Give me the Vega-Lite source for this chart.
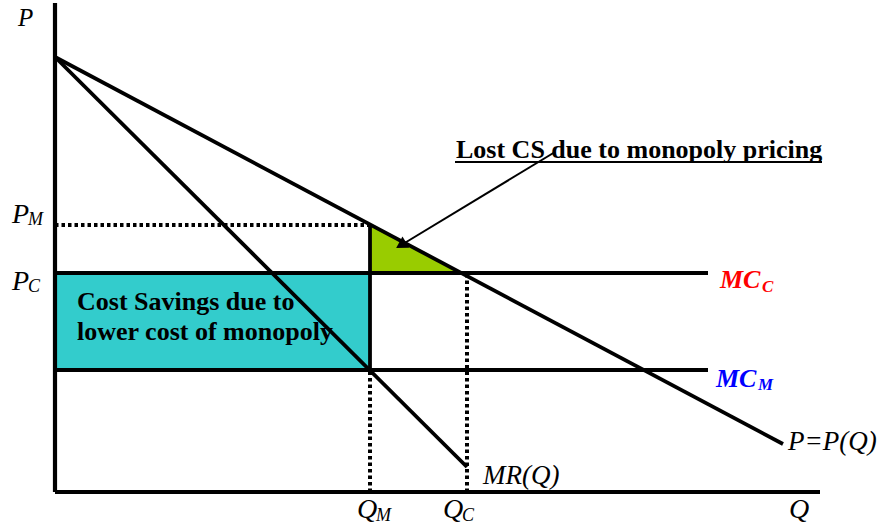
{
  "$schema": "https://vega.github.io/schema/vega-lite/v6.json",
  "width": 883,
  "height": 524,
  "autosize": "none",
  "padding": 0,
  "background": "white",
  "config": {"view": {"stroke": null}},
  "datasets": {
    "rects": [{"x": 0, "x2": 315, "y": 122, "y2": 219}],
    "tri": [{"x": 315, "y": 267, "y2": 219}, {"x": 408, "y": 219, "y2": 219}],
    "axes": [
      {"x": 0, "y": 0, "x2": 0, "y2": 489},
      {"x": 0, "y": 0, "x2": 765, "y2": 0}
    ],
    "solid": [
      {"name": "demand", "x": 0, "y": 435, "x2": 728, "y2": 48},
      {"name": "MR", "x": 0, "y": 435, "x2": 412, "y2": 25},
      {"name": "MCC", "x": 0, "y": 219, "x2": 653, "y2": 219},
      {"name": "MCM", "x": 0, "y": 122, "x2": 653, "y2": 122},
      {"name": "QM upper", "x": 315, "y": 122, "x2": 315, "y2": 267}
    ],
    "dotted": [
      {"name": "PM", "x": 0, "y": 267, "x2": 315, "y2": 267},
      {"name": "QM", "x": 315, "y": 0, "x2": 315, "y2": 122},
      {"name": "QC", "x": 412, "y": 0, "x2": 412, "y2": 219}
    ],
    "arrow": [{"x": 500, "y": 340, "x2": 348, "y2": 248}],
    "arrowhead": [{"x": 346, "y": 247}],
    "underline": [{"x": 400, "y": 330, "x2": 767, "y2": 330}],
    "titleP": [{"x": -37, "y": 466, "label": "P"}],
    "bigItalic": [
      {"x": -43, "y": 269, "label": "P"},
      {"x": -43, "y": 202, "label": "P"},
      {"x": 302, "y": -26, "label": "Q"},
      {"x": 388, "y": -26, "label": "Q"},
      {"x": 734, "y": -26, "label": "Q"}
    ],
    "subItalic": [
      {"x": -27, "y": 267, "label": "M"},
      {"x": -27, "y": 200, "label": "C"},
      {"x": 321, "y": -29, "label": "M"},
      {"x": 407, "y": -29, "label": "C"}
    ],
    "curveLabels": [
      {"x": 428, "y": 8, "label": "MR(Q)"},
      {"x": 733, "y": 42, "label": "P=P(Q)"}
    ],
    "mc": [
      {"x": 665, "y": 204, "label": "MC", "curve": "C"},
      {"x": 661, "y": 105, "label": "MC", "curve": "M"}
    ],
    "mcSub": [
      {"x": 707, "y": 200, "label": "C", "curve": "C"},
      {"x": 703, "y": 102, "label": "M", "curve": "M"}
    ],
    "lost": [{"x": 401, "y": 334, "label": "Lost CS due to monopoly pricing"}],
    "savings": [
      {"x": 22, "y": 182, "label": "Cost Savings due to"},
      {"x": 22, "y": 152, "label": "lower cost of monopoly"}
    ]
  },
  "encoding": {
    "x": {"field": "x", "type": "quantitative", "scale": {"domain": [-55, 828], "nice": false, "zero": false}, "axis": null},
    "y": {"field": "y", "type": "quantitative", "scale": {"domain": [-32, 492], "nice": false, "zero": false}, "axis": null}
  },
  "layer": [
    {
      "data": {"name": "rects"},
      "mark": {"type": "rect", "color": "#33cccc", "stroke": "#1f9f9f", "strokeWidth": 1},
      "encoding": {"x2": {"field": "x2"}, "y2": {"field": "y2"}}
    },
    {
      "data": {"name": "tri"},
      "mark": {"type": "area", "color": "#99cc00"},
      "encoding": {"y2": {"field": "y2"}}
    },
    {
      "data": {"name": "axes"},
      "mark": {"type": "rule", "color": "black", "strokeWidth": 4.2},
      "encoding": {"x2": {"field": "x2"}, "y2": {"field": "y2"}}
    },
    {
      "data": {"name": "solid"},
      "mark": {"type": "rule", "color": "black", "strokeWidth": 3.8},
      "encoding": {"x2": {"field": "x2"}, "y2": {"field": "y2"}}
    },
    {
      "data": {"name": "dotted"},
      "mark": {"type": "rule", "color": "black", "strokeWidth": 4, "strokeDash": [3.5, 3]},
      "encoding": {"x2": {"field": "x2"}, "y2": {"field": "y2"}}
    },
    {
      "data": {"name": "arrow"},
      "mark": {"type": "rule", "color": "black", "strokeWidth": 2},
      "encoding": {"x2": {"field": "x2"}, "y2": {"field": "y2"}}
    },
    {
      "data": {"name": "arrowhead"},
      "mark": {"type": "point", "shape": "triangle-up", "filled": true, "color": "black", "size": 170, "angle": 239, "opacity": 1}
    },
    {
      "data": {"name": "underline"},
      "mark": {"type": "rule", "color": "black", "strokeWidth": 2},
      "encoding": {"x2": {"field": "x2"}, "y2": {"field": "y2"}}
    },
    {
      "data": {"name": "titleP"},
      "mark": {"type": "text", "font": "Liberation Serif", "fontStyle": "italic", "fontSize": 25, "align": "left", "baseline": "alphabetic", "color": "black"},
      "encoding": {"text": {"field": "label"}}
    },
    {
      "data": {"name": "bigItalic"},
      "mark": {"type": "text", "font": "Liberation Serif", "fontStyle": "italic", "fontSize": 28, "align": "left", "baseline": "alphabetic", "color": "black"},
      "encoding": {"text": {"field": "label"}}
    },
    {
      "data": {"name": "subItalic"},
      "mark": {"type": "text", "font": "Liberation Serif", "fontStyle": "italic", "fontSize": 18, "align": "left", "baseline": "alphabetic", "color": "black"},
      "encoding": {"text": {"field": "label"}}
    },
    {
      "data": {"name": "curveLabels"},
      "mark": {"type": "text", "font": "Liberation Serif", "fontStyle": "italic", "fontSize": 27, "align": "left", "baseline": "alphabetic", "color": "black"},
      "encoding": {"text": {"field": "label"}}
    },
    {
      "data": {"name": "mc"},
      "mark": {"type": "text", "font": "Liberation Serif", "fontStyle": "italic", "fontWeight": "bold", "fontSize": 26, "align": "left", "baseline": "alphabetic"},
      "encoding": {
        "text": {"field": "label"},
        "color": {"field": "curve", "type": "nominal", "scale": {"domain": ["C", "M"], "range": ["#ff0000", "#0000ff"]}, "legend": null}
      }
    },
    {
      "data": {"name": "mcSub"},
      "mark": {"type": "text", "font": "Liberation Serif", "fontStyle": "italic", "fontWeight": "bold", "fontSize": 17, "align": "left", "baseline": "alphabetic"},
      "encoding": {
        "text": {"field": "label"},
        "color": {"field": "curve", "type": "nominal", "scale": {"domain": ["C", "M"], "range": ["#ff0000", "#0000ff"]}, "legend": null}
      }
    },
    {
      "data": {"name": "lost"},
      "mark": {"type": "text", "font": "Liberation Serif", "fontWeight": "bold", "fontSize": 26, "align": "left", "baseline": "alphabetic", "color": "black"},
      "encoding": {"text": {"field": "label"}}
    },
    {
      "data": {"name": "savings"},
      "mark": {"type": "text", "font": "Liberation Serif", "fontWeight": "bold", "fontSize": 26, "align": "left", "baseline": "alphabetic", "color": "black"},
      "encoding": {"text": {"field": "label"}}
    }
  ]
}
